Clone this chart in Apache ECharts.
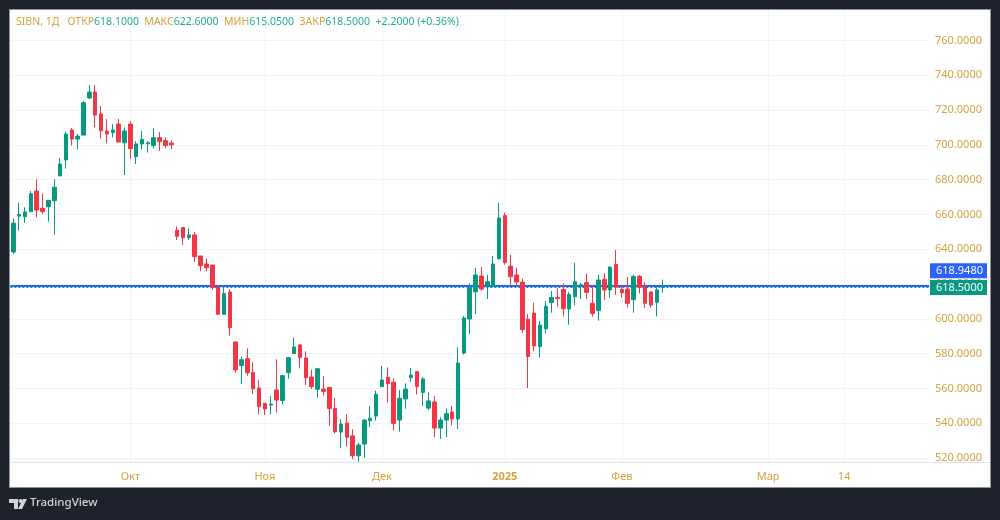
<!DOCTYPE html>
<html>
<head>
<meta charset="utf-8">
<style>
html,body{margin:0;padding:0;background:#1e222d;}
#main{width:1000px;height:520px;}
</style>
<script src="https://cdn.jsdelivr.net/npm/echarts@6/dist/echarts.min.js"></script>
</head>
<body>
<div id="main"></div>
<script>
// дневные свечи SIBN
const opens = [638.4,659,658.7,661.6,673.4,663.5,664.4,667.9,682.1,691.3,708.5,703.3,705.6,726.9,730.3,717.7,707.9,707,711.9,701.2,711.9,693.2,700.5,700.6,699.5,704.1,702.4,701,
  650.9,652.5,646.6,648.2,636.1,631.5,630.9,618.3,602.6,615.4,586.7,573.1,577.1,569.2,560.2,551.4,550.4,559.1,553,569,580,585,577.5,566.5,559.5,559.6,560.6,548.5,534.9,540.1,532.7,521.3,
  528,541.4,544.1,561,566.4,563.5,541.8,553.9,566.2,569.6,557.7,548.7,552.2,537.2,541.8,546.4,542.4,580.3,599.9,615.6,624.6,618.9,618.9,634.5,659.3,630.3,625.2,621.1,599.8,
  603.3,584,594.3,609.3,612.3,616.9,605.6,612.7,618.7,620.8,608.9,604.7,622.7,616.6,631.3,616.9,617.1,611,624.4,618.3,615.4,609.5,618.1];
const closes = [654.9,660,661.4,671.9,662.5,661.6,668.1,675.6,689,706.2,703.3,705,724.2,730.3,717.1,708.1,706.2,708.5,701.6,707.9,697.8,700.5,703.1,701.2,704.1,701.8,699.5,700,
  647.4,646.6,648.2,635.7,630.5,629.4,618.1,602.6,614.6,594.9,570.6,576.5,569,559.8,549.5,548.2,551,553.3,567.3,577.7,583.8,577.7,566.2,561,571.3,558.3,548.4,535.1,539.5,531.9,521.3,527.5,
  541.8,542.8,556.6,564.8,562.7,539.9,554.3,559.6,567.7,561,565.4,552.8,537.2,541.8,545.5,542.4,574.6,600.5,617.9,625.2,617.1,621.3,631.5,657.9,632.3,624.2,621.1,593.8,578.3,
  584.4,596.4,607.2,612.3,611.6,605.8,614,621.3,619.6,615.2,603.1,622.3,616.6,629.6,618.1,615,608.9,624.4,618.1,608.9,607.9,616.6,618.5];
const lows = [637.2,650.6,655.2,661.2,658.3,660.2,655.8,648.3,682.1,686.3,699.5,697.4,705.6,726.3,710,703.5,700.8,704.3,701.6,682.6,692,689,697.4,695.5,698,696.4,698,697.4,
  645.3,642.5,645.3,632.7,627.3,627.3,616.9,602.6,602.6,590.3,569,562.5,567.3,556.8,545.1,544.7,545.1,546,550.8,565.6,580,571.5,562,559.7,554.7,555.8,538.6,534,525.6,526.5,519.2,517.9,
  520.2,537.8,541.4,561,551.8,535.7,535.1,548.3,563.9,556.4,549.9,547.6,532,530.9,531.9,538.8,536.7,579.4,591.3,602.8,616.2,611.4,618.9,634.2,631.1,619,619,592,560.2,
  581.5,577.6,591.5,603.5,606.8,601.4,596.6,607.7,611.4,611.4,601.2,598.9,610.8,612.1,613.7,612.1,606.4,603.5,614.6,606.2,606.4,601.4,615.05];
const highs = [657.7,666.7,664.1,673.4,680.3,672.1,668.1,680.3,692.4,707.5,709.6,706.2,725.2,734.4,734.4,722.3,714.8,711.9,714.8,710,713.7,702.2,707.9,702.2,709.5,707.4,704.3,702.6,
  653.1,652.5,652,649.9,636.1,634.6,630.9,618.3,618.8,617,586.7,578.2,583,575,564.8,551.4,555.6,576.7,567.7,578.2,589.3,585.5,581.3,570.8,571.7,567.1,560.6,554.5,542.2,545.1,536.5,528.8,
  542.2,549.9,558.7,572.9,572.1,565.8,559,562.9,571.7,570,566.5,557.7,555.6,543.4,548.5,549.9,583.6,601.6,620.4,629.2,629.8,625.2,636.1,666.7,661,636.7,629.2,623.2,602.8,
  609.3,598.7,610.2,616,617.7,620.4,615.4,632.1,620.6,626.1,618.5,625.2,626.1,630.3,639.5,619.4,624,625.2,625.2,621,615.8,619,622.6];

const priceTicks = [520,540,560,580,600,620,640,660,680,700,720,740,760];
const timeSlots = [20,43,63,84,104,129,142];
const timeLabels = ['Окт','Ноя','Дек','2025','Фев','Мар','14'];
const slotCount = 157;
const lastPrice = 618.5;
const bidPrice = 618.948;

const GOLD = '#d2a33f', GREEN = '#089981', RED = '#f23645', BLUE = '#2962ff', TEAL = '#22ab94';
const FONT = '"Noto Sans", sans-serif';

const categories = [];
for (let i = 0; i < slotCount; i++) {
  const k = timeSlots.indexOf(i);
  categories.push(k >= 0 ? timeLabels[k] : 'd' + i);
}
const candles = opens.map((o, i) => [o, closes[i], lows[i], highs[i]]);
const isTimeSlot = (i) => timeSlots.indexOf(i) >= 0;

const myChart = echarts.init(document.getElementById('main'), null, {renderer: 'canvas'});
const option = {
  animation: false,
  backgroundColor: '#1e222d',
  title: {
    left: 16, top: 17, padding: 0,
    text: '{g|SIBN, 1Д   ОТКР}{v|618.1000}{g|  МАКС}{v|622.6000}{g|  МИН}{v|615.0500}{g|  ЗАКР}{v|618.5000}{v|  +2.2000 (+0.36%)}',
    textStyle: {
      fontSize: 10.5,
      fontWeight: 'normal',
      rich: {
        g: {color: GOLD, fontFamily: FONT, fontSize: 10.5, fontWeight: 'normal'},
        v: {color: TEAL, fontFamily: FONT, fontSize: 10.5, fontWeight: 'normal'}
      }
    }
  },
  grid: {left: 10.4, top: 10, width: 918.6, height: 452},
  xAxis: {
    type: 'category',
    data: categories,
    boundaryGap: true,
    axisLine: {lineStyle: {color: '#e0e3eb', width: 1}},
    axisTick: {show: false},
    axisLabel: {
      interval: (i) => isTimeSlot(i),
      color: GOLD, fontFamily: FONT, fontSize: 11, margin: 9,
      formatter: (v) => v === '2025' ? '{b|2025}' : v,
      rich: {b: {color: GOLD, fontFamily: FONT, fontSize: 11, fontWeight: 'bold'}}
    },
    splitLine: {
      show: true,
      alignWithLabel: true,
      interval: (i) => isTimeSlot(i),
      lineStyle: {color: '#f2f3f6', width: 1}
    }
  },
  yAxis: {
    type: 'value',
    position: 'right',
    min: 517.7,
    max: 777.47,
    axisLine: {show: false},
    axisTick: {show: false, customValues: priceTicks},
    axisLabel: {
      customValues: priceTicks,
      color: GOLD, fontFamily: FONT, fontSize: 11, margin: 6,
      formatter: (v) => v.toFixed(4)
    },
    splitLine: {show: true, lineStyle: {color: '#f2f3f6', width: 1}}
  },
  series: [{
    type: 'candlestick',
    data: candles,
    barWidth: 4,
    z: 3,
    itemStyle: {color: GREEN, color0: RED, borderColor: GREEN, borderColor0: RED, borderWidth: 1},
    markLine: {
      silent: true,
      symbol: 'none',
      z: 1,
      animation: false,
      data: [
        {
          yAxis: lastPrice,
          lineStyle: {color: GREEN, type: 'dotted', width: 2},
          label: {
            position: 'end', distance: 1, offset: [0, 1],
            formatter: lastPrice.toFixed(4),
            color: '#fff', backgroundColor: GREEN, fontFamily: FONT, fontSize: 11,
            padding: [2, 6, 2, 6], width: 45, align: 'left'
          }
        },
        {
          yAxis: bidPrice,
          lineStyle: {color: BLUE, type: 'solid', width: 2},
          label: {
            position: 'end', distance: 1, offset: [0, -15],
            formatter: bidPrice.toFixed(4),
            color: '#fff', backgroundColor: BLUE, fontFamily: FONT, fontSize: 11,
            padding: [2, 6, 2, 6], width: 45, align: 'left'
          }
        }
      ]
    }
  }],
  graphic: [
    {type: 'rect', silent: true, z: -10, shape: {x: 10, y: 10, width: 980, height: 477}, style: {fill: '#ffffff'}},
    {type: 'rect', silent: true, z: -11, shape: {x: 9, y: 9, width: 982, height: 479}, style: {fill: '#8f9196'}},
    // продолжение линии оси под шкалой цен
    {type: 'rect', silent: true, shape: {x: 931, y: 462, width: 59, height: 1}, style: {fill: '#e0e3eb'}},
    // логотип TradingView
    {type: 'polygon', silent: true, shape: {points: [[9,499],[18,499],[18,509],[14,509],[14,503],[9,503]]}, style: {fill: '#d1d4dc'}},
    {type: 'circle', silent: true, shape: {cx: 20.5, cy: 501, r: 2}, style: {fill: '#d1d4dc'}},
    {type: 'polygon', silent: true, shape: {points: [[23,499],[27,499],[22,509],[18,509]]}, style: {fill: '#d1d4dc'}},
    {type: 'text', silent: true, left: 30, top: 497, style: {text: 'TradingView', fill: '#d1d4dc', font: '500 11.5px "Noto Sans", sans-serif'}}
  ]
};
option && myChart.setOption(option);
</script>
</body>
</html>
